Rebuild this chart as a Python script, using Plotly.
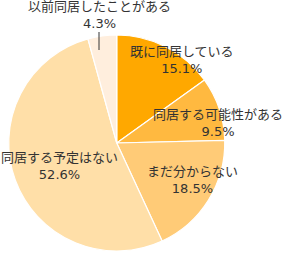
import plotly.graph_objects as go

labels = ["既に同居している", "同居する可能性がある", "まだ分からない", "同居する予定はない", "以前同居したことがある"]
values = [15.1, 9.5, 18.5, 52.6, 4.3]
colors = ["#FFA800", "#FFB940", "#FFCB77", "#FFDFA8", "#FFEEDD"]

W, H = 284, 253
# label centre positions in pixels (x, y centre of two-line block)
label_pos = [(182, 60), (218, 123), (192, 180), (59, 166), (99, 15)]

fig = go.Figure(go.Pie(
    labels=labels, values=values, sort=False, direction="clockwise", rotation=0,
    marker=dict(colors=colors, line=dict(color="#FFFFFF", width=1.2)),
    textinfo="none", hoverinfo="label+percent", showlegend=False,
    domain=dict(x=[8.5 / W, 225 / W], y=[1 - 251 / H, 1 - 35 / H]),
))

for lab, val, (px, py) in zip(labels, values, label_pos):
    fig.add_annotation(x=px / W, y=1 - py / H, xref="paper", yref="paper",
                       text=f"{lab}<br>{val:.1f}%", showarrow=False,
                       font=dict(family="DejaVu Sans, Noto Sans CJK JP", size=13, color="#333333"),
                       align="center", xanchor="center", yanchor="middle")

fig.add_shape(type="line", xref="paper", yref="paper",
              x0=99 / W, x1=99 / W, y0=1 - 32 / H, y1=1 - 50 / H,
              line=dict(color="#333333", width=1))

fig.update_layout(width=W, height=H, margin=dict(l=0, r=0, t=0, b=0),
                  paper_bgcolor="white", plot_bgcolor="white")
fig.write_html("out.html")
